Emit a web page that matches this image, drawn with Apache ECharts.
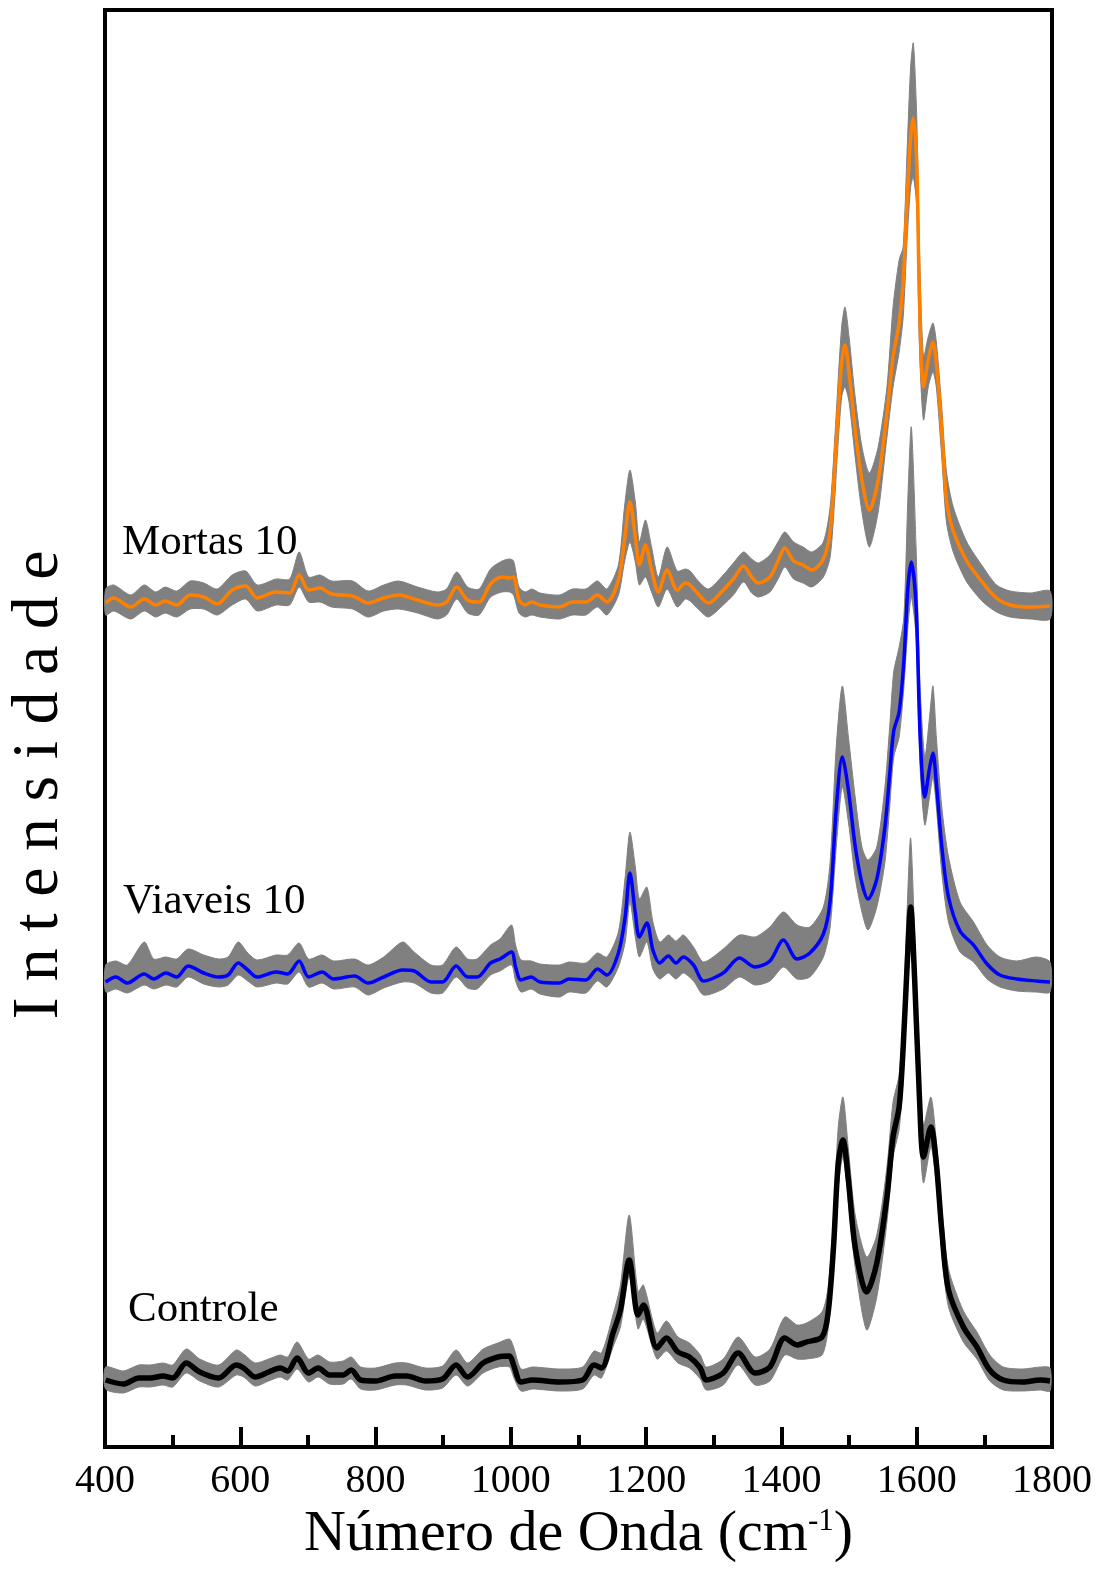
<!DOCTYPE html>
<html>
<head>
<meta charset="utf-8">
<script src="https://cdn.jsdelivr.net/npm/echarts@6/dist/echarts.min.js"></script>
<style>
html, body { margin: 0; padding: 0; background: #fff; }
#main { width: 1109px; height: 1571px; }
</style>
</head>
<body>
<div id="main"></div>
<script>
// Controle (black): mean spectrum plus upper / lower edge of the gray single spectra
var controleWave = [401,427,450,467,486,500,520,540,568,594,605,622,642,659,670,684,701,715,732,752,764,778,800,829,846,874,899,919,936,959,981,998,1004,1015,1032,1072,1106,1123,1134,1151,1162,1175,1188,1196,1216,1230,1247,1264,1280,1289,1314,1336,1361,1383,1405,1423,1437,1460,1469,1477,1484,1491,1499,1509,1526,1541,1556,1565,1574,1580,1586,1591,1597,1604,1610,1621,1629,1637,1647,1669,1689,1708,1728,1757,1783,1797];
var controleInt = [67,63,69,69,71,69,84,75,69,82,79,70,75,79,76,89,74,79,72,72,77,67,66,71,71,66,68,82,70,84,90,91,82,65,67,65,67,82,79,114,137,187,132,142,99,109,95,90,79,67,74,94,74,80,109,102,105,110,134,200,284,307,267,200,155,184,250,310,340,400,484,540,467,350,290,320,284,217,157,120,100,77,67,65,67,66];
var controleHigh = [80,76,82,82,84,82,98,88,82,97,93,84,88,92,90,105,88,92,85,86,90,80,79,84,84,79,81,97,84,98,104,108,100,78,80,78,80,96,94,132,162,232,155,162,114,126,110,104,92,80,88,110,90,98,130,122,124,135,160,230,320,350,298,232,190,212,280,345,372,430,540,609,510,380,322,350,305,240,178,136,115,92,80,78,80,79];
var controleLow = [58,54,60,60,62,60,74,66,60,72,70,61,66,70,67,78,65,70,63,63,68,58,57,62,62,57,59,72,61,74,80,80,70,56,58,56,58,72,69,100,120,170,118,128,88,96,84,79,68,57,62,82,62,66,92,88,88,92,118,180,260,290,245,180,117,150,225,290,318,370,450,505,440,320,264,300,262,195,140,105,88,66,57,56,57,56];

// Viaveis 10 (blue)
var viaveisWave = [401,416,433,458,472,490,506,523,546,568,582,597,611,625,653,670,687,701,721,738,769,789,812,840,857,882,899,919,936,950,970,984,1001,1007,1015,1030,1043,1072,1086,1111,1128,1142,1159,1169,1176,1184,1190,1201,1210,1220,1233,1244,1255,1270,1285,1314,1338,1361,1383,1403,1423,1442,1462,1472,1481,1490,1499,1509,1519,1528,1541,1553,1560,1566,1574,1581,1587,1592,1599,1605,1612,1619,1624,1629,1637,1647,1664,1684,1704,1723,1748,1777,1797];
var viaveisInt = [465,470,464,473,468,474,470,481,474,470,472,484,477,470,475,473,486,470,475,468,471,464,470,477,476,465,465,481,470,470,484,488,495,480,467,470,465,464,468,467,478,472,494,530,574,534,510,524,497,484,491,484,490,482,466,474,489,480,486,507,488,494,513,546,638,690,657,601,564,548,568,620,672,716,735,786,860,885,842,712,650,679,694,664,601,550,516,502,483,472,468,466,465];
var viaveisHigh = [482,486,482,505,488,490,488,498,492,488,490,505,494,487,492,492,504,488,492,486,488,482,490,505,495,482,482,500,488,488,502,508,522,502,487,486,483,482,485,484,494,490,515,570,615,580,548,560,525,505,512,506,512,500,485,498,512,510,520,535,522,520,540,585,700,761,710,650,600,587,600,660,720,775,800,830,950,1020,900,760,690,730,761,710,640,590,545,525,502,490,486,490,485];
var viaveisLow = [455,458,454,462,458,462,460,470,463,460,462,472,466,460,464,463,475,460,464,458,460,452,459,465,464,454,454,470,459,458,472,476,482,466,455,458,453,450,455,454,466,460,480,505,545,510,490,505,478,468,474,468,474,466,452,458,470,462,466,480,468,470,490,520,600,660,625,570,535,517,540,585,640,690,710,760,820,850,810,680,622,650,670,640,575,525,495,485,468,460,456,455,455];

// Mortas 10 (orange)
var mortasWave = [401,413,438,458,475,489,506,526,546,566,588,608,625,653,673,687,701,718,735,766,789,812,834,862,891,905,920,936,953,970,987,998,1004,1012,1021,1031,1043,1072,1091,1111,1128,1142,1159,1168,1176,1184,1190,1199,1208,1218,1231,1246,1258,1265,1277,1292,1314,1329,1344,1356,1366,1383,1395,1405,1418,1432,1445,1462,1472,1479,1482,1489,1494,1500,1509,1519,1530,1543,1556,1565,1574,1580,1586,1591,1595,1600,1604,1610,1617,1624,1629,1637,1644,1654,1674,1698,1718,1738,1768,1797];
var mortasInt = [844,849,840,848,842,846,842,852,850,843,857,861,849,855,854,872,857,859,853,851,844,849,852,847,842,845,860,847,845,863,870,869,870,847,842,845,842,840,845,845,852,845,867,907,945,910,882,902,877,855,877,857,864,862,853,844,857,868,881,870,864,870,886,899,886,882,877,888,916,983,1017,1084,1102,1074,1017,967,937,967,1034,1090,1124,1167,1250,1310,1329,1284,1150,1060,1087,1105,1084,1017,947,916,886,864,849,842,840,841];
var mortasHigh = [858,862,852,862,855,860,856,866,864,858,872,876,862,868,868,895,870,872,866,866,856,862,866,860,855,858,875,860,858,878,886,888,886,860,855,858,854,852,858,858,866,858,882,940,977,945,905,927,900,870,900,876,878,876,866,858,872,884,895,888,884,892,905,915,905,900,895,905,940,1010,1045,1120,1140,1110,1050,1000,974,1000,1060,1140,1187,1200,1300,1380,1404,1330,1200,1090,1110,1124,1105,1040,975,940,905,880,862,856,854,856];
var mortasLow = [832,836,828,836,830,834,830,838,838,832,842,848,836,842,842,860,845,845,840,838,830,836,838,834,828,832,848,834,832,850,855,855,852,834,830,832,830,828,832,832,840,832,852,885,905,885,862,870,855,840,858,840,848,846,838,830,842,852,865,854,850,855,868,880,868,864,860,870,890,950,985,1050,1060,1045,990,935,900,935,1010,1060,1095,1130,1210,1260,1270,1240,1100,1027,1060,1075,1060,990,925,895,865,845,835,830,828,828];

var serif = 'Liberation Serif';

function zip(xs, ys) {
  return xs.map(function (x, i) { return [x, ys[i]]; });
}

// gray spread of the single spectra, drawn as one filled band per sample
function band(name, xs, hi, lo) {
  return {
    type: 'custom',
    name: name,
    silent: true,
    z: 1,
    data: xs.map(function (x, i) { return [x, hi[i], lo[i]]; }),
    encode: { x: 0, y: [1, 2] },
    renderItem: function (params, api) {
      if (params.dataIndex !== 0) return null;
      var top = xs.map(function (x, i) { return api.coord([x, hi[i]]); });
      var bottom = xs.map(function (x, i) { return api.coord([x, lo[i]]); }).reverse();
      return {
        type: 'polygon',
        shape: { points: top.concat(bottom), smooth: 0.25 },
        style: { fill: '#808080', stroke: '#808080', lineWidth: 1 }
      };
    }
  };
}

function spectrum(name, xs, ys, color, width) {
  return {
    type: 'line',
    name: name,
    data: zip(xs, ys),
    showSymbol: false,
    smooth: 0.3,
    z: 3,
    lineStyle: { color: color, width: width }
  };
}

var myChart = echarts.init(document.getElementById('main'));

var option = {
  backgroundColor: '#fff',
  animation: false,
  grid: {
    left: 105, right: 57, top: 10, bottom: 124,
    show: true, borderColor: '#000', borderWidth: 4
  },
  xAxis: {
    type: 'value',
    min: 400, max: 1800, interval: 200,
    axisLine: { lineStyle: { color: '#000', width: 4 } },
    axisTick: { inside: true, length: 20, lineStyle: { color: '#000', width: 4 } },
    minorTick: { show: true, splitNumber: 2, length: 12, lineStyle: { color: '#000', width: 4 } },
    splitLine: { show: false },
    axisLabel: {
      fontFamily: serif, fontSize: 40, color: '#000', margin: 14,
      formatter: function (v) { return String(v); }
    },
    name: 'Número de Onda (cm{sup|-1})',
    nameLocation: 'middle',
    nameGap: 58,
    nameTextStyle: {
      fontFamily: serif, fontSize: 58, color: '#000',
      rich: { sup: { fontFamily: serif, fontSize: 31, color: '#000', verticalAlign: 'top' } }
    }
  },
  yAxis: {
    type: 'value',
    min: 0, max: 1437,
    axisLine: { lineStyle: { color: '#000', width: 4 } },
    axisTick: { show: false },
    axisLabel: { show: false },
    splitLine: { show: false }
  },
  graphic: [
    { type: 'text', x: 40, y: 785, rotation: Math.PI / 2,
      style: { text: 'I n t e n s i d a d e', fontFamily: serif, fontSize: 66, fill: '#000', align: 'center', verticalAlign: 'middle' } },
    { type: 'text', x: 122, y: 543,
      style: { text: 'Mortas 10', fontFamily: serif, fontSize: 43, fill: '#000', align: 'left', verticalAlign: 'middle' } },
    { type: 'text', x: 123, y: 902,
      style: { text: 'Viaveis 10', fontFamily: serif, fontSize: 43, fill: '#000', align: 'left', verticalAlign: 'middle' } },
    { type: 'text', x: 128, y: 1310,
      style: { text: 'Controle', fontFamily: serif, fontSize: 43, fill: '#000', align: 'left', verticalAlign: 'middle' } }
  ],
  series: [
    band('Controle individual', controleWave, controleHigh, controleLow),
    band('Viaveis individual', viaveisWave, viaveisHigh, viaveisLow),
    band('Mortas individual', mortasWave, mortasHigh, mortasLow),
    spectrum('Controle', controleWave, controleInt, '#000000', 5.5),
    spectrum('Viaveis 10', viaveisWave, viaveisInt, '#0000ff', 3.5),
    spectrum('Mortas 10', mortasWave, mortasInt, '#ff8000', 3.5)
  ]
};
myChart.setOption(option);
</script>
</body>
</html>
